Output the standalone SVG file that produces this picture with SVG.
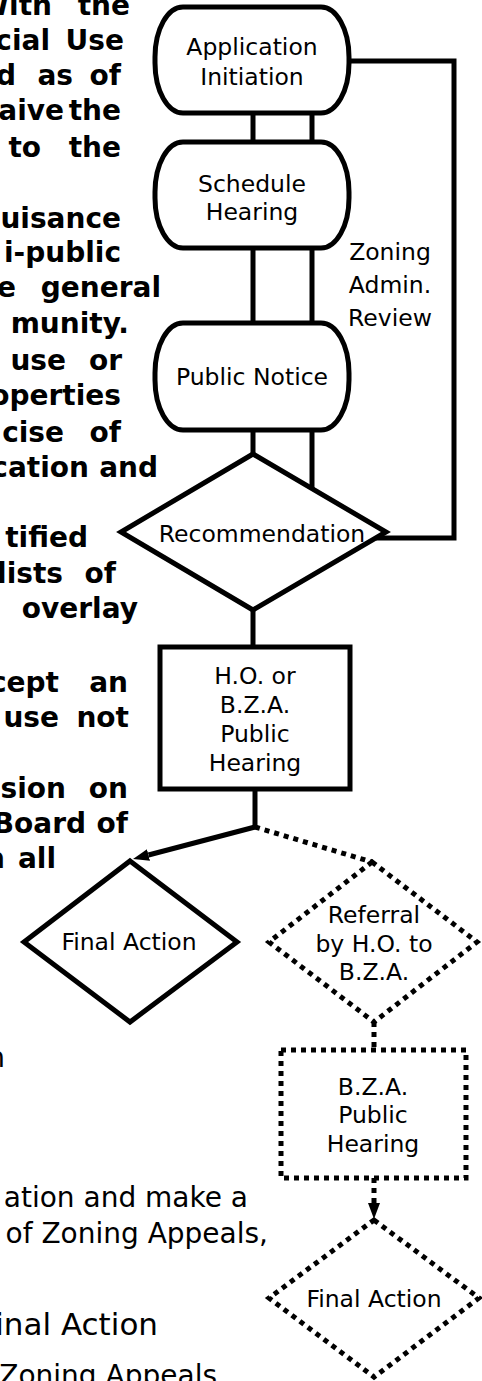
<svg xmlns="http://www.w3.org/2000/svg" width="482" height="1381" viewBox="0 0 482 1381">
<style>
.bg{fill:#fff}
.shape{fill:#fff;stroke:#000;stroke-width:5}
.dshape{fill:none;stroke:#000;stroke-width:5;stroke-dasharray:5 5}
.line{fill:none;stroke:#000;stroke-width:5}
.dline{fill:none;stroke:#000;stroke-width:5;stroke-dasharray:5 5}
.lbl{font-family:"DejaVu Sans","Liberation Sans",sans-serif;font-size:23.5px;fill:#000;text-anchor:middle}
.pb{font-family:"DejaVu Sans","Liberation Sans",sans-serif;font-size:28px;font-weight:bold;fill:#000;text-anchor:end}
.pr{font-family:"DejaVu Sans","Liberation Sans",sans-serif;font-size:28px;fill:#000;text-anchor:end}
</style>
<defs>
<marker id="arrow" viewBox="0 0 16 12" refX="0" refY="6" markerWidth="16" markerHeight="12" markerUnits="userSpaceOnUse" orient="auto">
<path d="M0,0 L16,6 L0,12 z" fill="#000" stroke="none"/>
</marker>
</defs>
<rect class="bg" x="0" y="0" width="482" height="1381"/>

<g id="page-text">
<text class="pb" x="52" y="15">With</text><text class="pb" x="130" y="15">the</text>
<text class="pb" x="50" y="50">cial</text><text class="pb" x="124" y="50">Use</text>
<text class="pb" x="16" y="85">d</text><text class="pb" x="73" y="85">as</text><text class="pb" x="121" y="85">of</text>
<text class="pb" x="64" y="120">aive</text><text class="pb" x="121" y="120">the</text>
<text class="pb" x="41" y="157">to</text><text class="pb" x="121" y="157">the</text>
<text class="pb" x="121" y="228">uisance</text>
<text class="pb" x="121" y="262">i-public</text>
<text class="pb" x="16" y="297">e</text><text class="pb" x="161" y="297">general</text>
<text class="pb" x="129" y="333">munity.</text>
<text class="pb" x="66" y="370">use</text><text class="pb" x="122" y="370">or</text>
<text class="pb" x="121" y="405">operties</text>
<text class="pb" x="64" y="442">cise</text><text class="pb" x="121" y="442">of</text>
<text class="pb" x="89" y="477">cation</text><text class="pb" x="158" y="477">and</text>
<text class="pb" x="88" y="547">tified</text>
<text class="pb" x="63" y="583">lists</text><text class="pb" x="116" y="583">of</text>
<text class="pb" x="138" y="618">overlay</text>
<text class="pb" x="59" y="692">cept</text><text class="pb" x="128" y="692">an</text>
<text class="pb" x="59" y="727">use</text><text class="pb" x="129" y="727">not</text>
<text class="pb" x="66" y="798">sion</text><text class="pb" x="128" y="798">on</text>
<text class="pb" x="86" y="833">Board</text><text class="pb" x="128" y="833">of</text>
<text class="pb" x="5" y="868">n</text><text class="pb" x="56" y="868">all</text>
<text class="pr" x="5" y="1067">n</text>
<text class="pr" x="248" y="1207">ation and make a</text>
<text class="pr" x="268" y="1243">of Zoning Appeals,</text>
<text class="pr" x="158" y="1335" style="font-size:31px">Final Action</text>
<text class="pr" x="217" y="1385">Zoning Appeals</text>
</g>

<g id="connectors">
<line class="line" x1="253" y1="113" x2="253" y2="142"/>
<line class="line" x1="312" y1="113" x2="312" y2="142"/>
<line class="line" x1="253" y1="248" x2="253" y2="323"/>
<line class="line" x1="312" y1="248" x2="312" y2="323"/>
<line class="line" x1="253" y1="430" x2="253" y2="455"/>
<line class="line" x1="312" y1="430" x2="312" y2="489"/>
<polyline class="line" points="349,61 454,61 454,538 376,538"/>
<line class="line" x1="253" y1="610" x2="253" y2="647"/>
<line class="line" x1="255" y1="789" x2="255" y2="827"/>
<line class="line" x1="255" y1="827" x2="148.5" y2="855" marker-end="url(#arrow)"/>
<line class="dline" x1="255" y1="827" x2="372" y2="862"/>
<line class="dline" x1="374" y1="1022" x2="374" y2="1050"/>
<line class="dline" x1="374" y1="1178" x2="374" y2="1203" marker-end="url(#arrow)"/>
</g>

<g id="application-initiation">
<rect class="shape" x="155" y="7" width="194" height="106" rx="28" ry="50"/>
<text class="lbl" x="252" y="55">Application</text>
<text class="lbl" x="252" y="85">Initiation</text>
</g>

<g id="schedule-hearing">
<rect class="shape" x="155" y="142" width="194" height="106" rx="28" ry="50"/>
<text class="lbl" x="252" y="192">Schedule</text>
<text class="lbl" x="252" y="220">Hearing</text>
</g>

<g id="public-notice">
<rect class="shape" x="155" y="323" width="194" height="107" rx="28" ry="50"/>
<text class="lbl" x="252" y="385">Public Notice</text>
</g>

<g id="zoning-admin-review">
<text class="lbl" x="390" y="260">Zoning</text>
<text class="lbl" x="390" y="293">Admin.</text>
<text class="lbl" x="390" y="326">Review</text>
</g>

<g id="recommendation">
<polygon class="shape" points="253,454 386,532 253,610 121,532"/>
<text class="lbl" x="262" y="542">Recommendation</text>
</g>

<g id="ho-bza-hearing">
<rect class="shape" x="160" y="647" width="190" height="142"/>
<text class="lbl" x="255" y="684">H.O. or</text>
<text class="lbl" x="255" y="713">B.Z.A.</text>
<text class="lbl" x="255" y="742">Public</text>
<text class="lbl" x="255" y="771">Hearing</text>
</g>

<g id="final-action-1">
<polygon class="shape" points="130,861 237,942 130,1022 24,942"/>
<text class="lbl" x="129" y="950">Final Action</text>
</g>

<g id="referral">
<polygon class="dshape" points="372,862 477,942 374,1022 269,942"/>
<text class="lbl" x="374" y="923">Referral</text>
<text class="lbl" x="374" y="952">by H.O. to</text>
<text class="lbl" x="374" y="980">B.Z.A.</text>
</g>

<g id="bza-hearing">
<rect class="dshape" x="281" y="1050" width="185" height="128"/>
<text class="lbl" x="373" y="1095">B.Z.A.</text>
<text class="lbl" x="373" y="1123">Public</text>
<text class="lbl" x="373" y="1152">Hearing</text>
</g>

<g id="final-action-2">
<polygon class="dshape" points="374,1220 479,1298 374,1377 269,1298"/>
<text class="lbl" x="374" y="1307">Final Action</text>
</g>
</svg>
